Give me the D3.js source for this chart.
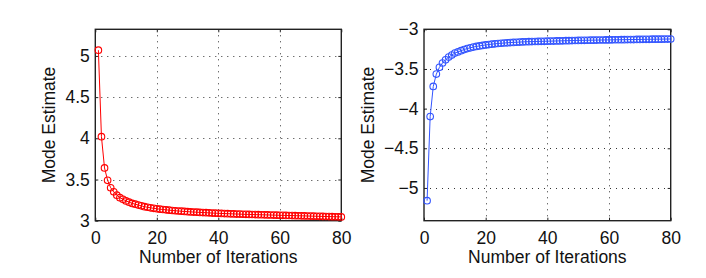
<!DOCTYPE html>
<html lang="en">
<head>
	<meta charset="utf-8">
	<title>Mode Estimate</title>
	<script src="https://d3js.org/d3.v7.min.js" charset="utf-8"></script>
	<style>
	body { margin: 0; background: #fff; }
	text { font-family: "Liberation Sans", Arial, sans-serif; }
	</style>
</head>
<body>
<script>
// iterations 1..80
var iterations = d3.range(1, 81);

// left panel: estimate going down towards 3
var redValues = [
	5.07, 4.02, 3.64, 3.49, 3.40, 3.35, 3.31, 3.28, 3.26, 3.24,
	3.225, 3.21, 3.20, 3.19, 3.18, 3.17, 3.163, 3.156, 3.15, 3.145,
	3.14, 3.136, 3.132, 3.128, 3.124, 3.121, 3.118, 3.115, 3.112, 3.11,
	3.107, 3.105, 3.103, 3.101, 3.099, 3.097, 3.095, 3.093, 3.091, 3.09,
	3.088, 3.087, 3.085, 3.084, 3.082, 3.081, 3.08, 3.078, 3.077, 3.076,
	3.075, 3.074, 3.073, 3.072, 3.071, 3.07, 3.069, 3.068, 3.067, 3.066,
	3.065, 3.064, 3.063, 3.062, 3.061, 3.06, 3.059, 3.058, 3.057, 3.056,
	3.055, 3.054, 3.053, 3.052, 3.051, 3.05, 3.049, 3.048, 3.047, 3.046
];

// right panel: estimate going up towards -3
var blueValues = [
	-5.16, -4.10, -3.72, -3.565, -3.48, -3.425, -3.385, -3.35, -3.325, -3.30,
	-3.285, -3.27, -3.255, -3.243, -3.233, -3.224, -3.216, -3.209, -3.203, -3.197,
	-3.192, -3.187, -3.183, -3.179, -3.176, -3.173, -3.17, -3.167, -3.165, -3.163,
	-3.161, -3.159, -3.157, -3.156, -3.155, -3.154, -3.153, -3.152, -3.151, -3.15,
	-3.149, -3.148, -3.147, -3.146, -3.145, -3.144, -3.143, -3.142, -3.141, -3.14,
	-3.139, -3.139, -3.138, -3.137, -3.137, -3.136, -3.135, -3.135, -3.134, -3.134,
	-3.133, -3.132, -3.132, -3.131, -3.131, -3.130, -3.129, -3.129, -3.128, -3.128,
	-3.127, -3.126, -3.126, -3.125, -3.125, -3.124, -3.124, -3.123, -3.123, -3.122
];

var xTicks = [0, 20, 40, 60, 80];
var redTicks = [3, 3.5, 4, 4.5, 5];
var blueTicks = [-5, -4.5, -4, -3.5, -3];

var w = 706, h = 278;
var fontSize = "17.5px";

var svg = d3.select("body")
	.append("svg")
	.attr("width", w)
	.attr("height", h);

function drawPanel(left, right, yDomain, values, yTicks, color, labelOffset) {
	var top = 29.3, bottom = 220.7;

	var xScale = d3.scaleLinear().domain([0, 80]).range([left, right]);
	var yScale = d3.scaleLinear().domain(yDomain).range([bottom, top]);

	var g = svg.append("g");

	// dotted grid
	g.selectAll(".gx")
		.data(xTicks.filter(function(d) { return d > 0 && d < 80; }))
		.enter().append("line")
		.attr("x1", function(d) { return Math.round(xScale(d)) + 0.5; })
		.attr("x2", function(d) { return Math.round(xScale(d)) + 0.5; })
		.attr("y1", top)
		.attr("y2", bottom)
		.attr("stroke", "#333")
		.attr("stroke-width", 1)
		.attr("stroke-dasharray", "1,5");

	g.selectAll(".gy")
		.data(yTicks.filter(function(d) { return yScale(d) > top + 1 && yScale(d) < bottom - 1; }))
		.enter().append("line")
		.attr("x1", left)
		.attr("x2", right)
		.attr("y1", function(d) { return Math.round(yScale(d)) + 0.5; })
		.attr("y2", function(d) { return Math.round(yScale(d)) + 0.5; })
		.attr("stroke", "#333")
		.attr("stroke-width", 1)
		.attr("stroke-dasharray", "1,5");

	// axes with inward ticks
	var xAxis = g.append("g")
		.attr("transform", "translate(0," + bottom + ")")
		.call(d3.axisBottom(xScale).tickValues(xTicks).tickSize(-3).tickPadding(10.5).tickFormat(d3.format("~g")));
	var xAxisTop = g.append("g")
		.attr("transform", "translate(0," + top + ")")
		.call(d3.axisTop(xScale).tickValues(xTicks).tickSize(-3).tickFormat(""));
	var yAxis = g.append("g")
		.attr("transform", "translate(" + left + ",0)")
		.call(d3.axisLeft(yScale).tickValues(yTicks).tickSize(-3).tickPadding(5.5).tickFormat(d3.format("~g")));
	var yAxisRight = g.append("g")
		.attr("transform", "translate(" + right + ",0)")
		.call(d3.axisRight(yScale).tickValues(yTicks).tickSize(-3).tickFormat(""));

	[xAxis, xAxisTop, yAxis, yAxisRight].forEach(function(a) {
		a.select(".domain").remove();
		a.selectAll("line").attr("stroke", "#222");
		a.selectAll("text")
			.attr("fill", "#111")
			.style("font-size", fontSize)
			.style("font-family", "'Liberation Sans', Arial, sans-serif");
	});

	// box
	g.append("rect")
		.attr("x", left)
		.attr("y", top)
		.attr("width", right - left)
		.attr("height", bottom - top)
		.attr("fill", "none")
		.attr("stroke", "#222")
		.attr("stroke-width", 1.4);

	// line + circle markers
	var line = d3.line()
		.x(function(d, i) { return xScale(iterations[i]); })
		.y(function(d) { return yScale(d); });

	g.append("path")
		.datum(values)
		.attr("d", line)
		.attr("fill", "none")
		.attr("stroke", color)
		.attr("stroke-width", 1);

	g.selectAll("circle")
		.data(values)
		.enter().append("circle")
		.attr("cx", function(d, i) { return xScale(iterations[i]); })
		.attr("cy", function(d) { return yScale(d); })
		.attr("r", 3.3)
		.attr("fill", "none")
		.attr("stroke", color)
		.attr("stroke-width", 1.1);

	// axis labels
	g.append("text")
		.attr("text-anchor", "middle")
		.attr("x", (left + right) / 2)
		.attr("y", 263)
		.attr("fill", "#111")
		.style("font-size", fontSize)
		.text("Number of Iterations");

	g.append("text")
		.attr("text-anchor", "middle")
		.attr("transform", "translate(" + (left - labelOffset) + "," + ((top + bottom) / 2) + ") rotate(-90)")
		.attr("fill", "#111")
		.style("font-size", fontSize)
		.text("Mode Estimate");
}

drawPanel(95.3, 341.3, [3, 5.323], redValues, redTicks, "#ff0000", 40);
drawPanel(424, 670.7, [-5.413, -3], blueValues, blueTicks, "#3355ff", 50);
</script>
</body>
</html>
